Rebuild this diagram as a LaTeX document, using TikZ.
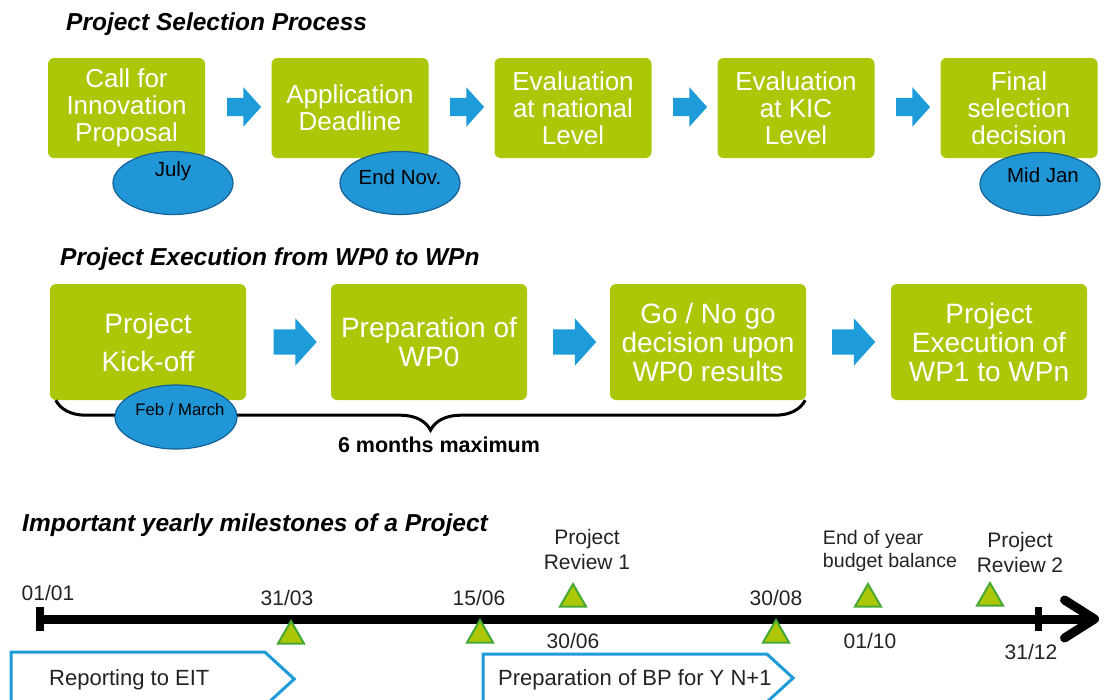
\documentclass[tikz,border=0pt]{standalone}
\usepackage{fontspec}
\setmainfont{Liberation Sans}
\usetikzlibrary{shapes.geometric,shapes.arrows,shapes.symbols}
\usetikzlibrary{decorations.pathreplacing,arrows.meta}

\definecolor{kicgreen}{RGB}{172,198,8}
\definecolor{kicblue}{RGB}{30,156,218}
\definecolor{ovalblue}{RGB}{33,150,214}
\definecolor{ovaledge}{RGB}{22,96,150}
\definecolor{triedge}{RGB}{72,168,52}
\definecolor{darktext}{RGB}{35,35,35}

\tikzset{
  stepbox/.style={rectangle,rounded corners=6pt,fill=kicgreen,text=white,align=center,inner sep=0pt},
  smallstep/.style={stepbox,minimum width=157pt,minimum height=100pt,font=\fontsize{26}{27}\selectfont},
  bigstep/.style={stepbox,minimum width=196pt,minimum height=116pt,font=\fontsize{28}{29}\selectfont},
  flow/.style={single arrow,fill=kicblue,inner xsep=0pt,single arrow tip angle=96},
  smallflow/.style={flow,minimum height=34pt,inner ysep=9pt,single arrow head extend=10.5pt},
  bigflow/.style={flow,minimum height=43pt,inner ysep=12.5pt,single arrow head extend=11pt},
  oval/.style={ellipse,fill=ovalblue,draw=ovaledge,line width=1.2pt,minimum width=120pt,minimum height=63pt,inner sep=0pt},
  ovaltext/.style={inner sep=0pt,font=\fontsize{20.5}{22}\selectfont},
  heading/.style={anchor=west,inner sep=0pt,text=black,font=\fontsize{24.5}{26}\selectfont\bfseries\itshape},
  milestone/.style={regular polygon,regular polygon sides=3,minimum size=30pt,inner sep=0pt,
    fill=kicgreen,draw=triedge,line width=2pt,anchor=corner 1},
  datelabel/.style={inner sep=0pt,text=darktext,align=center,font=\fontsize{21}{25}\selectfont},
  phase/.style={signal,signal to=east,signal from=nowhere,signal pointer angle=85,
    draw=kicblue,line width=3pt,fill=white,inner sep=0pt},
  phasetext/.style={anchor=west,inner sep=0pt,text=darktext,font=\fontsize{22}{24}\selectfont},
}

\begin{document}
\begin{tikzpicture}[x=1pt,y=-1pt]
\useasboundingbox (0,0) rectangle (1105,699);

% selection process
\node[heading] (selhead) at (66,24) {Project Selection Process};
\node[smallstep] (call) at (126.5,108) {Call for\\Innovation\\Proposal};
\node[smallstep] (deadline) at ([xshift=223.5pt]call) {Application\\Deadline};
\node[smallstep] (national) at ([xshift=223pt]deadline) {Evaluation\\at national\\Level};
\node[smallstep] (kiclevel) at ([xshift=223pt]national) {Evaluation\\at KIC\\Level};
\node[smallstep] (final) at ([xshift=223pt]kiclevel) {Final\\selection\\decision};
\node[smallflow] (s1) at ([xshift=113.5pt,yshift=1pt]call) {};
\node[smallflow] (s2) at ([xshift=113pt,yshift=1pt]deadline) {};
\node[smallflow] (s3) at ([xshift=113pt,yshift=1pt]national) {};
\node[smallflow] (s4) at ([xshift=113pt,yshift=1pt]kiclevel) {};

\node[oval] (july) at (173,183) {};
\node[ovaltext] (julytext) at ([yshift=12pt]july) {July};
\node[oval] (endnov) at (400,183) {};
\node[ovaltext] (endnovtext) at ([yshift=6pt]endnov) {End Nov.};
\node[oval] (midjan) at (1040,184) {};
\node[ovaltext] (midjantext) at ([xshift=3pt,yshift=9pt]midjan) {Mid Jan};

% execution from WP0 to WPn
\node[heading] (exechead) at (60,259) {Project Execution from WP0 to WPn};
\node[bigstep] (kickoff) at (148,342) {Project\\[9pt]Kick-off};
\node[bigstep] (prepwp0) at ([xshift=281pt]kickoff) {Preparation of\\WP0};
\node[bigstep] (gonogo) at ([xshift=279pt]prepwp0) {Go / No go\\decision upon\\WP0 results};
\node[bigstep] (wpn) at ([xshift=281pt]gonogo) {Project\\Execution of\\WP1 to WPn};
\node[bigflow] (e1) at ([xshift=141.5pt]kickoff) {};
\node[bigflow] (e2) at ([xshift=140pt]prepwp0) {};
\node[bigflow] (e3) at ([xshift=140pt]gonogo) {};

\draw[decorate,decoration={brace,mirror,amplitude=30pt},line width=3pt]
  ([xshift=6pt]kickoff.south west) -- ([xshift=-1pt]gonogo.south east);
\node[oval,minimum width=122pt,minimum height=64pt] (febmarch) at (176,417) {};
\node[inner sep=0pt,font=\fontsize{16.7}{18}\selectfont] (febmarchtext) at ([xshift=4pt,yshift=7pt]febmarch) {Feb / March};
\node[inner sep=0pt,font=\fontsize{21.5}{24}\selectfont\bfseries] (maxsix) at (439,445) {6 months maximum};

% yearly milestones
\node[heading] (milehead) at (22,525) {Important yearly milestones of a Project};
\coordinate (jan) at (36,619);
\coordinate (arrowtip) at (1099,619);
\draw[line width=9pt,{Bar[width=24pt,line width=8pt]}-{Straight Barb[length=30pt,width=38pt,round]}] (jan) -- (arrowtip);
\node[fill=black,minimum width=7pt,minimum height=24pt,inner sep=0pt] (dec31) at (1038,619) {};

\node[datelabel] (d0101) at (48,593) {01/01};
\node[datelabel] (d3103) at (287,598) {31/03};
\node[datelabel] (d1506) at (479,598) {15/06};
\node[datelabel] (d3006) at (573,641) {30/06};
\node[datelabel] (d3008) at (776,598) {30/08};
\node[datelabel] (d0110) at (870,641) {01/10};
\node[datelabel] (d3112) at (1031,652) {31/12};
\node[datelabel] (review1) at (587,549) {Project\\Review 1};
\node[datelabel,align=left,font=\fontsize{19.6}{23}\selectfont] (balance) at (890,551) {End of year\\budget balance};
\node[datelabel] (review2) at (1020,552) {Project\\Review 2};

\node[milestone] (m3103) at (291,619) {};
\node[milestone] (m1506) at (480,618) {};
\node[milestone] (m3006) at (573,582) {};
\node[milestone] (m3008) at (776,618) {};
\node[milestone] (m0110) at (868,582) {};
\node[milestone] (mrev2) at (990,581) {};

\node[phase,minimum width=283pt,minimum height=54pt] (eit) at (138,679) {};
\node[phasetext] (eittext) at (49,680) {Reporting to EIT};
\node[phase,minimum width=310pt,minimum height=48pt] (bp) at (625,678) {};
\node[phasetext] (bptext) at (498,680) {Preparation of BP for Y N+1};
\end{tikzpicture}
\end{document}
